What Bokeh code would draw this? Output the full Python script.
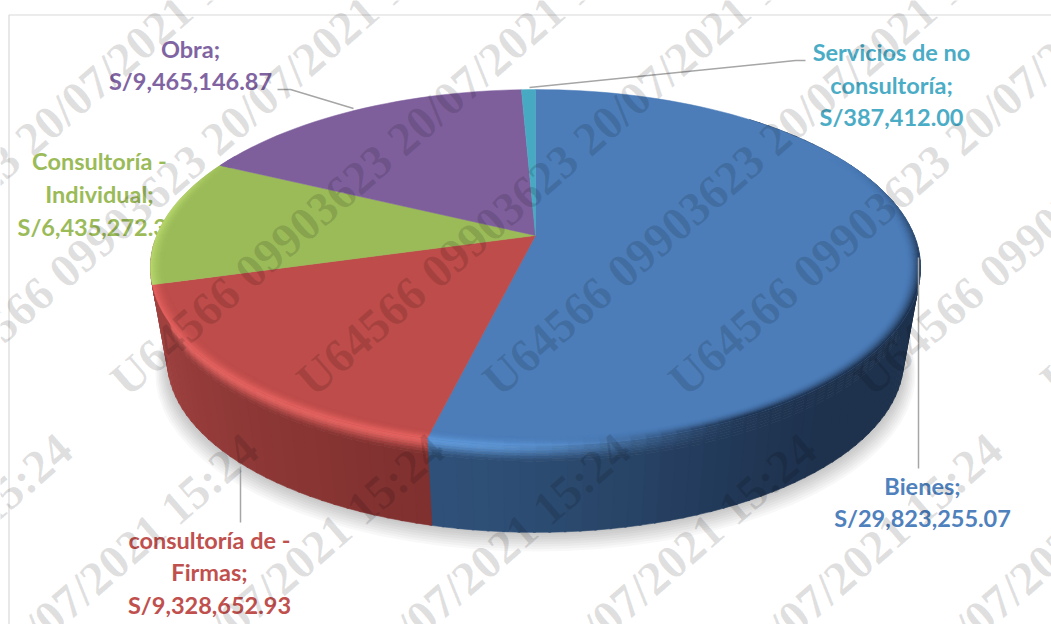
import math
from bokeh.plotting import figure
from bokeh.models import Range1d
from bokeh.core.properties import value
from bokeh.embed import file_html
from bokeh.resources import INLINE

# ---- data ----
categories = ["Bienes", "consultoría de - Firmas", "Consultoría - Individual", "Obra", "Servicios de no consultoría"]
values = [29823255.07, 9328652.93, 6435272.3, 9465146.87, 387412.00]
label_lines = [
    ["Bienes;", "S/29,823,255.07"],
    ["consultoría de -", "Firmas;", "S/9,328,652.93"],
    ["Consultoría -", "Individual;", "S/6,435,272.3"],
    ["Obra;", "S/9,465,146.87"],
    ["Servicios de no", "consultoría;", "S/387,412.00"],
]
watermark = "U64566 09903623 20/07/2021 15:24"

# ---- styles / layout ----
face = ["#4c7db9", "#bd4c4a", "#9bbb59", "#7e5f9c", "#48a9c2"]
text_col = ["#4f81bd", "#c0504d", "#9bbb59", "#8064a2", "#4bacc6"]
side_a = ["#2f5078", "#7f302f", "#7f9a48", "#5f4778", "#37839a"]
side_b = ["#1e324e", "#a04240", "#8aa84e", "#6a5088", "#3a8ea5"]
light = ["#5d96d6", "#e2615e", "#b6d56c", "#8e70ad", "#5cc0da"]
label_cx = [922, 209, 99, 190, 891]
label_base = [[485, 517], [539, 571, 604], [160, 193, 226], [48, 80], [51, 84, 116]]
leaders = [
    ([918, 918], [257, 468]),
    ([240, 240], [466, 522]),
    ([277, 290, 353], [89, 89, 108]),
    ([529, 795, 805], [87, 60, 60]),
]
CX, CY, K, A, B, DEPTH, SX, SY = 535, 235, 0.18, 378.7, 172.2, 94, 0.956, 0.966


def proj(theta_deg, r=1.0, z=0.0):
    t = math.radians(theta_deg)
    u, v = r * math.sin(t), r * math.cos(t)
    w = 1 + K * v
    sx, sy = 1 - z * (1 - SX), 1 - z * (1 - SY)
    return CX + sx * A * u / w, CY + z * DEPTH - sy * B * v / w


def rgb(h):
    return [int(h[i:i + 2], 16) for i in (1, 3, 5)]


def mix(c1, c2, t):
    t = max(0, min(1, t))
    a, b = rgb(c1), rgb(c2)
    return "#%02x%02x%02x" % tuple(int(round(a[i] + (b[i] - a[i]) * t)) for i in range(3))


def smooth(a, b, x):
    t = max(0, min(1, (x - a) / (b - a)))
    return t * t * (3 - 2 * t)


total = sum(values)
edges = [0.0]
for val in values:
    edges.append(edges[-1] + 360.0 * val / total)

p = figure(width=1051, height=624, x_range=Range1d(0, 1051), y_range=Range1d(624, 0),
           x_axis_type=None, y_axis_type=None, toolbar_location=None, output_backend="svg",
           min_border=0, outline_line_color=None, background_fill_color="white")
p.grid.visible = False

# chart frame
p.line([8.5, 8.5, 1051], [624, 14.5, 14.5], line_color="#d9d9d9", line_width=1.2)

# labels lie under the pie
for i, lines in enumerate(label_lines):
    for j, txt in enumerate(lines):
        clipped = txt == "S/6,435,272.3"
        p.text([17 if clipped else label_cx[i]], [label_base[i][j]], text=[txt],
               text_font=value("Lato"), text_font_style="bold", text_font_size="23.5px",
               text_color=text_col[i], text_align="left" if clipped else "center",
               text_baseline="alphabetic")

# soft shadow
for n in range(8):
    xs, ys = [], []
    for d in range(0, 360, 4):
        x, y = proj(d, 1.0 + 0.004 * (8 - n), 1.0)
        xs.append(x)
        ys.append(y + 1.4 * (8 - n))
    p.patch(xs, ys, fill_color="black", fill_alpha=0.028, line_color=None)

# rim side
zs = [0, 0.03, 0.06, 0.09, 0.12, 0.15, 0.18, 1.0]
sx, sy, sc = [], [], []
for i in range(len(values)):
    a0, a1 = edges[i], edges[i + 1]
    lo, hi = max(a0, 40), min(a1, 268)
    d = lo
    # the slim left part of the rim reads as the red slice
    ci = 1 if i == 2 else i
    while d < hi:
        e = min(d + 2.0, hi)
        f = (d - edges[ci]) / max(edges[ci + 1] - edges[ci], 1e-6)
        if i == 0:
            base = mix(side_b[0], side_a[0], smooth(135, 193, d))
        else:
            base = mix(side_b[ci], side_a[ci], 1 - f)
        for q in range(len(zs) - 1):
            z0, z1 = zs[q], zs[q + 1]
            glow = (1 - smooth(0, 0.18, z1 - 0.03)) * smooth(150, 190, d) * (1 - smooth(235, 262, d))
            col = mix(base, light[ci], glow)
            pts = [proj(d, 1, z0), proj(e + 0.3, 1, z0), proj(e + 0.3, 1, z1), proj(d, 1, z1)]
            sx.append([c[0] for c in pts])
            sy.append([c[1] for c in pts])
            sc.append(col)
        d = e
p.patches(sx, sy, fill_color=sc, line_color=sc, line_width=0.6)

# top face: wedges
for i in range(len(values)):
    a0, a1 = edges[i], edges[i + 1]
    n = max(2, int((a1 - a0) / 2))
    pts = [proj(0, 0)] + [proj(a0 + (a1 - a0) * m / n) for m in range(n + 1)]
    p.patch([c[0] for c in pts], [c[1] for c in pts], fill_color=face[i], line_color=face[i], line_width=0.5)

# top face: bevel at the rim
rings = [0.966 + 0.0034 * m for m in range(11)]
rx, ry, rc = [], [], []
for i in range(len(values)):
    a0, a1 = edges[i], edges[i + 1]
    d = a0
    while d < a1:
        e = min(d + 2.0, a1)
        dark = smooth(55, 110, d) * (1 - smooth(150, 185, d))
        glow = smooth(150, 190, d) * (1 - smooth(280, 300, d))
        if dark + glow > 0.01:
            for q in range(len(rings) - 1):
                t = (q + 1) / (len(rings) - 1)
                col = mix(face[i], "#1e324e", dark * t * t)
                col = mix(col, light[i], glow * t * t)
                pts = [proj(d, rings[q]), proj(e, rings[q]), proj(e, rings[q + 1]), proj(d, rings[q + 1])]
                rx.append([c[0] for c in pts])
                ry.append([c[1] for c in pts])
                rc.append(col)
        d = e
p.patches(rx, ry, fill_color=rc, line_color=rc, line_width=0.5)

# leader lines
for lx, ly in leaders:
    p.line(lx, ly, line_color="#a6a6a6", line_width=1.5)

# watermark
wm_step = 186
for row_x, row_y in [(117, 386), (-282, 905)]:
    xs = [row_x + wm_step * k for k in range(-2, 9)]
    p.text(xs, [row_y] * len(xs), text=[watermark] * len(xs), angle=math.radians(41),
           text_font=value("Liberation Serif"), text_font_style="bold", text_font_size="47.5px",
           text_color="black", text_alpha=0.12, text_align="left", text_baseline="alphabetic")

open("out.html", "w").write(file_html(p, INLINE))
